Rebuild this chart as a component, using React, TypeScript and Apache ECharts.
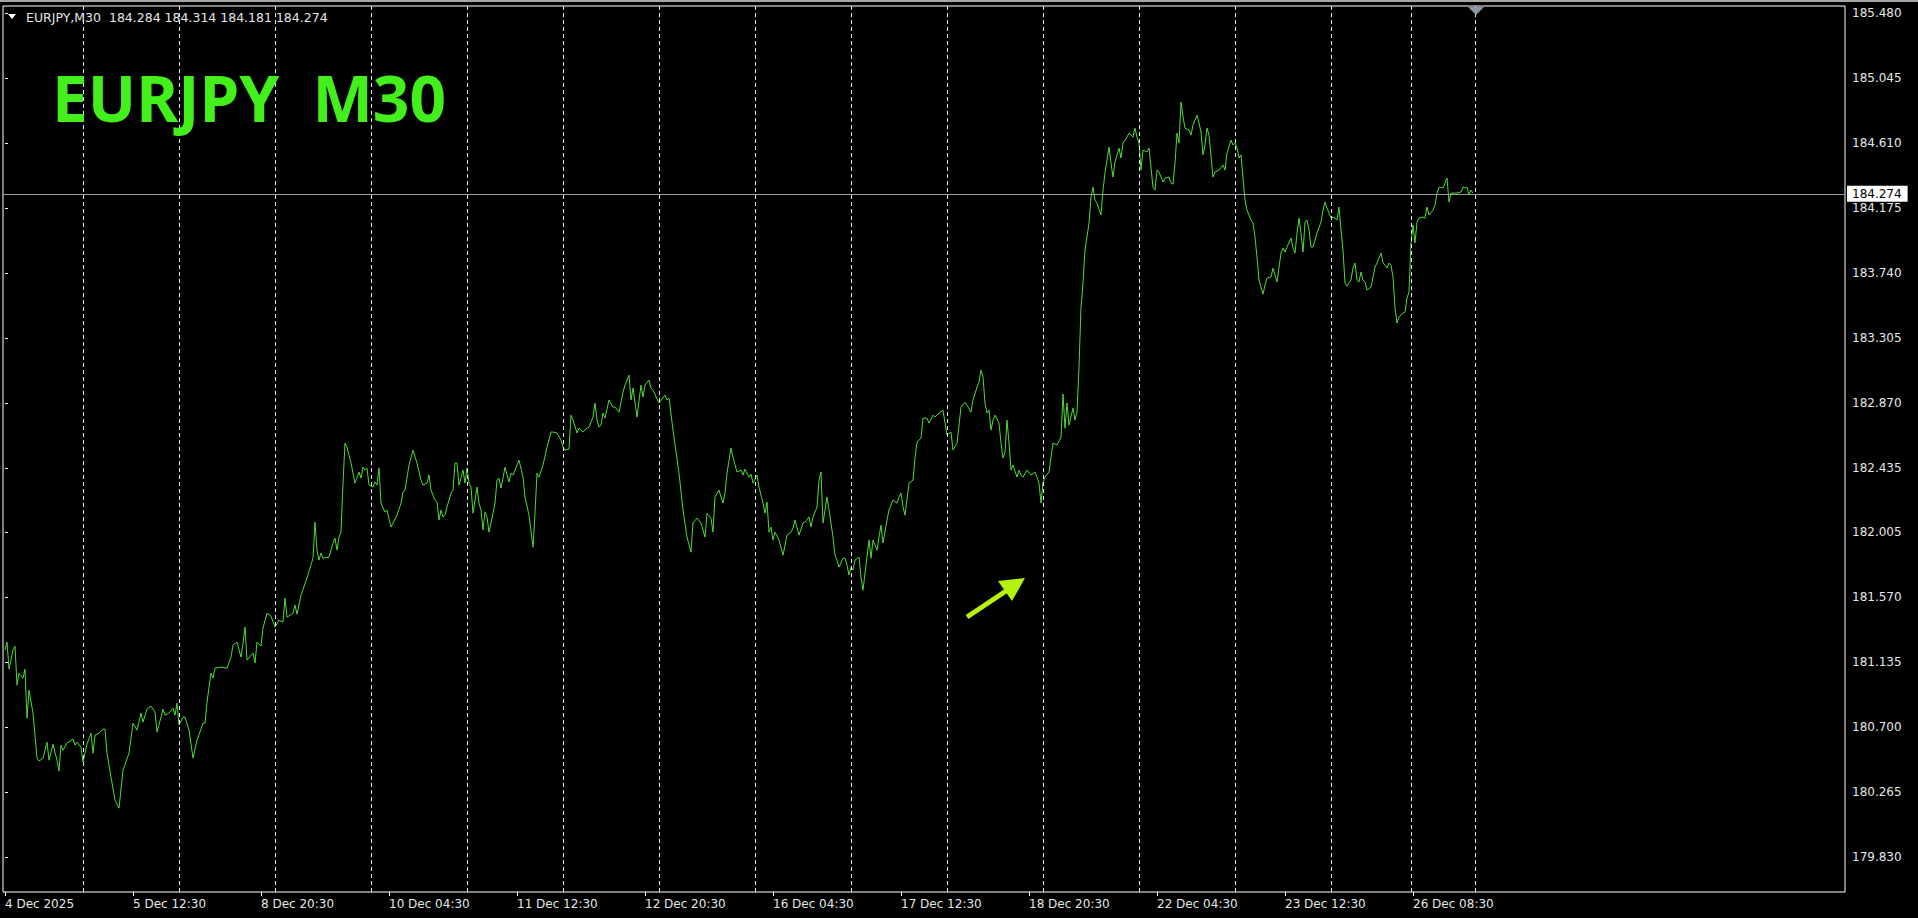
import React, { useEffect, useRef } from "react";
import * as echarts from "echarts";

// ---- data (bar index on the M30 chart, close price) ----
const symbolName = "EURJPY";
const timeframe = "M30";
const headerOHLC = [184.284, 184.314, 184.181, 184.274];

const closes: [number, number][] = [
  [0,181.217],[1,181.270],[2,181.089],[4,181.217],[5,181.243],[6,180.982],[7,181.063],[9,181.029],[10,181.089],[11,180.761],
  [12,180.949],[14,180.795],[16,180.494],[17,180.474],[19,180.494],[21,180.601],[22,180.480],[24,180.587],[26,180.480],[27,180.407],
  [28,180.581],[29,180.547],[31,180.594],[34,180.621],[35,180.581],[36,180.601],[38,180.567],[39,180.467],[41,180.587],[43,180.661],
  [44,180.527],[45,180.648],[47,180.661],[49,180.688],[50,180.688],[51,180.527],[53,180.367],[55,180.213],[57,180.159],[59,180.413],
  [62,180.527],[64,180.728],[66,180.681],[68,180.795],[69,180.735],[71,180.822],[73,180.842],[75,180.802],[76,180.668],[78,180.768],
  [79,180.822],[80,180.781],[82,180.795],[84,180.828],[85,180.781],[86,180.862],[87,180.715],[89,180.768],[90,180.768],[92,180.681],
  [94,180.494],[96,180.614],[99,180.728],[100,180.728],[101,180.869],[103,181.063],[104,181.029],[105,181.096],[108,181.103],[111,181.096],
  [113,181.170],[114,181.250],[116,181.270],[118,181.170],[119,181.263],[120,181.371],[121,181.150],[124,181.196],[125,181.130],[126,181.270],
  [128,181.243],[129,181.364],[131,181.464],[133,181.444],[135,181.371],[137,181.417],[139,181.404],[140,181.565],[141,181.437],[144,181.464],
  [145,181.518],[146,181.457],[148,181.585],[151,181.699],[154,181.832],[155,182.073],[156,181.886],[157,181.819],[158,181.866],[159,181.832],
  [162,181.839],[164,181.933],[165,181.966],[166,181.886],[167,181.973],[168,182.006],[169,182.334],[170,182.602],[171,182.575],[173,182.468],
  [175,182.334],[177,182.408],[178,182.368],[179,182.441],[180,182.421],[181,182.435],[182,182.321],[184,182.308],[185,182.341],[186,182.321],
  [187,182.435],[188,182.200],[190,182.140],[191,182.154],[193,182.040],[194,182.067],[196,182.120],[198,182.200],[199,182.274],[200,182.287],
  [202,182.455],[204,182.555],[206,182.468],[208,182.354],[209,182.321],[211,182.334],[212,182.388],[213,182.287],[215,182.220],[216,182.207],
  [217,182.087],[218,182.154],[219,182.107],[220,182.120],[221,182.174],[223,182.267],[224,182.287],[225,182.468],[226,182.468],[227,182.321],
  [228,182.368],[229,182.421],[230,182.334],[231,182.435],[232,182.334],[233,182.308],[234,182.133],[236,182.308],[237,182.200],[238,182.154],
  [239,182.020],[240,182.140],[241,182.107],[242,182.006],[244,182.133],[245,182.200],[246,182.354],[247,182.368],[248,182.301],[249,182.368],
  [250,182.441],[252,182.341],[253,182.401],[254,182.388],[256,182.455],[257,182.488],[259,182.374],[260,182.241],[262,182.120],[264,181.906],
  [265,182.133],[266,182.401],[267,182.374],[269,182.455],[271,182.575],[273,182.676],[274,182.676],[276,182.669],[278,182.622],[279,182.575],
  [280,182.555],[282,182.562],[283,182.789],[284,182.756],[286,182.669],[287,182.702],[289,182.676],[291,182.702],[292,182.709],[294,182.776],
  [295,182.870],[296,182.756],[297,182.709],[298,182.722],[299,182.803],[300,182.769],[302,182.890],[304,182.843],[305,182.843],[307,182.809],
  [309,182.943],[310,182.990],[312,183.057],[313,182.890],[314,182.970],[316,182.776],[318,182.990],[319,182.910],[320,182.990],[322,183.024],
  [323,182.970],[324,182.957],[327,182.870],[330,182.923],[331,182.890],[332,182.903],[334,182.689],[337,182.401],[339,182.154],[341,181.973],
  [343,181.872],[344,182.067],[346,182.100],[348,182.067],[350,181.973],[351,182.133],[353,182.100],[354,182.006],[355,182.241],[357,182.287],
  [359,182.200],[360,182.267],[361,182.401],[363,182.569],[364,182.508],[366,182.408],[368,182.421],[369,182.388],[370,182.428],[372,182.374],
  [373,182.395],[374,182.334],[376,182.388],[377,182.308],[379,182.200],[380,182.133],[381,182.207],[382,182.006],[383,182.040],[384,181.953],
  [385,182.006],[387,181.953],[389,181.852],[391,181.986],[393,182.006],[394,182.033],[395,182.087],[397,181.986],[399,182.067],[400,182.073],
  [402,182.107],[403,182.040],[404,182.107],[406,182.174],[407,182.354],[408,182.408],[409,182.067],[410,182.154],[411,182.241],[412,182.154],
  [414,181.973],[415,181.852],[416,181.819],[417,181.772],[419,181.832],[420,181.832],[421,181.785],[422,181.719],[423,181.772],[424,181.752],
  [425,181.819],[427,181.839],[428,181.705],[429,181.618],[430,181.732],[432,181.953],[433,181.832],[434,181.953],[436,181.886],[437,181.973],
  [438,182.053],[439,181.933],[441,182.087],[442,182.154],[444,182.221],[446,182.200],[447,182.241],[448,182.267],[449,182.174],[450,182.120],
  [452,182.334],[454,182.354],[455,182.502],[456,182.609],[458,182.635],[459,182.769],[461,182.769],[462,182.736],[464,182.789],[465,182.776],
  [467,182.803],[469,182.823],[470,182.736],[471,182.656],[473,182.676],[474,182.555],[476,182.602],[478,182.843],[480,182.876],[481,182.856],
  [483,182.809],[484,182.890],[486,182.977],[487,183.010],[488,183.091],[489,183.044],[490,182.870],[491,182.803],[492,182.823],[493,182.689],
  [494,182.756],[495,182.789],[497,182.736],[498,182.602],[499,182.502],[500,182.542],[501,182.756],[502,182.602],[503,182.421],[504,182.455],
  [506,182.374],[507,182.421],[508,182.388],[509,182.374],[511,182.421],[513,182.388],[515,182.408],[516,182.374],[517,182.334],[518,182.200],
  [519,182.341],[520,182.374],[522,182.408],[524,182.602],[526,182.589],[528,182.642],[529,182.930],[530,182.702],[531,182.870],[532,182.722],
  [534,182.836],[535,182.756],[536,182.809],[537,183.111],[538,183.512],[539,183.673],[540,183.894],[542,184.074],[543,184.248],[544,184.315],
  [545,184.228],[546,184.208],[548,184.128],[549,184.295],[550,184.409],[552,184.583],[553,184.476],[554,184.382],[555,184.483],[556,184.530],
  [557,184.576],[558,184.510],[559,184.610],[561,184.650],[562,184.677],[564,184.650],[565,184.710],[566,184.650],[567,184.610],[568,184.429],
  [569,184.563],[571,184.550],[572,184.576],[573,184.443],[574,184.315],[575,184.295],[576,184.429],[577,184.416],[579,184.349],[580,184.376],
  [582,184.382],[583,184.342],[584,184.335],[585,184.476],[586,184.677],[587,184.610],[588,184.884],[589,184.784],[590,184.710],[592,184.697],
  [593,184.663],[594,184.730],[596,184.797],[597,184.744],[598,184.684],[599,184.530],[600,184.597],[601,184.710],[602,184.663],[604,184.382],
  [605,184.416],[607,184.429],[609,184.463],[610,184.429],[611,184.543],[613,184.630],[614,184.597],[615,184.610],[616,184.576],[617,184.510],
  [618,184.530],[619,184.376],[620,184.228],[621,184.161],[623,184.095],[624,184.074],[625,183.981],[626,183.847],[627,183.693],[629,183.599],
  [630,183.659],[631,183.706],[633,183.713],[634,183.773],[635,183.726],[636,183.680],[638,183.874],[639,183.907],[640,183.880],[641,183.914],
  [643,183.974],[644,183.907],[645,183.874],[646,184.008],[647,184.108],[648,184.008],[649,183.880],[650,184.081],[651,184.095],[652,184.028],
  [653,183.914],[654,183.914],[656,184.008],[658,184.081],[659,184.161],[660,184.215],[661,184.175],[663,184.108],[664,184.114],[666,184.095],
  [667,184.182],[668,184.028],[669,183.894],[670,183.673],[671,183.653],[673,183.693],[674,183.773],[675,183.807],[676,183.693],[677,183.680],
  [678,183.747],[679,183.693],[680,183.680],[681,183.626],[683,183.646],[684,183.713],[685,183.780],[686,183.807],[688,183.874],[689,183.807],
  [690,183.793],[691,183.773],[692,183.807],[693,183.793],[694,183.713],[695,183.506],[696,183.405],[697,183.445],[699,183.472],[700,183.479],
  [701,183.573],[702,183.613],[703,183.941],[704,184.061],[705,183.941],[706,184.081],[707,184.108],[709,184.114],[710,184.108],[711,184.182],
  [712,184.128],[714,184.161],[715,184.195],[716,184.275],[717,184.315],[719,184.309],[720,184.342],[721,184.376],[722,184.215],[723,184.275],
  [724,184.275],[726,184.275],[728,184.282],[729,184.315],[730,184.309],[731,184.315],[732,184.262],[733,184.295],[734,184.274],
];

const dayLineBars = [39, 87, 135, 183, 231, 279, 327, 375, 423, 471, 519, 567, 615, 663, 703, 735];
const timeLabelBars = [0, 64, 128, 192, 256, 320, 384, 448, 512, 576, 640, 704];
const timeLabels = [
  "4 Dec 2025", "5 Dec 12:30", "8 Dec 20:30", "10 Dec 04:30", "11 Dec 12:30", "12 Dec 20:30",
  "16 Dec 04:30", "17 Dec 12:30", "18 Dec 20:30", "22 Dec 04:30", "23 Dec 12:30", "26 Dec 08:30",
];
const priceTicks = [185.48, 185.045, 184.61, 184.175, 183.74, 183.305, 182.87, 182.435, 182.005, 181.57, 181.135, 180.7, 180.265, 179.83];
const priceMin = 179.598;
const priceMax = 185.527;
const barMin = -1;
const barMax = 920;

// ---- styles ----
const FONT = "'DejaVu Sans', Verdana, sans-serif";
const LINE_COLOR = "#4ddc35";
const TITLE_COLOR = "#44f01c";
const ARROW_COLOR = "#b5f20d";
const TEXT_COLOR = "#e6e6e6";

export default function App() {
  const ref = useRef<HTMLDivElement>(null);
  useEffect(() => {
    document.body.style.margin = "0";
    const chart = echarts.init(ref.current!, null, { renderer: "svg" });
    const lastClose = closes[closes.length - 1][1];
    const header = `${symbolName},${timeframe}  ${headerOHLC.map((v) => v.toFixed(3)).join(" ")}`;
    chart.setOption({
      animation: false,
      backgroundColor: "#000000",
      grid: {
        left: 3, right: 73, top: 6, bottom: 26,
        show: true, borderColor: "#ffffff", borderWidth: 1, backgroundColor: "transparent",
      },
      xAxis: {
        type: "value",
        min: barMin,
        max: barMax,
        axisLine: { show: false },
        splitLine: { show: false },
        axisTick: { show: true, customValues: timeLabelBars, length: 4, lineStyle: { color: "#ffffff" } },
        axisLabel: {
          customValues: timeLabelBars,
          formatter: (v: number) => {
            const k = timeLabelBars.indexOf(Math.round(v));
            return k >= 0 ? timeLabels[k] : "";
          },
          align: "left",
          margin: 6,
          color: TEXT_COLOR,
          fontSize: 12,
          fontFamily: FONT,
        },
      },
      yAxis: {
        type: "value",
        position: "right",
        min: priceMin,
        max: priceMax,
        scale: true,
        axisLine: { show: false },
        splitLine: { show: false },
        axisTick: { show: true, customValues: priceTicks, length: 3, lineStyle: { color: "#ffffff" } },
        axisLabel: {
          customValues: priceTicks,
          formatter: (v: number) => v.toFixed(3),
          margin: 7,
          color: TEXT_COLOR,
          fontSize: 12,
          fontFamily: FONT,
        },
      },
      series: [
        {
          type: "line",
          name: "daySeparators",
          data: [],
          z: 1,
          silent: true,
          markLine: {
            silent: true,
            symbol: ["none", "none"],
            label: { show: false },
            lineStyle: { color: "#e8e8e8", width: 1, type: [4, 3] },
            data: dayLineBars.map((b) => ({ xAxis: b })),
          },
        },
        {
          type: "line",
          name: `${symbolName} ${timeframe}`,
          data: closes,
          showSymbol: false,
          symbol: "none",
          silent: true,
          z: 3,
          lineStyle: { color: LINE_COLOR, width: 1 },
          markLine: {
            silent: true,
            symbol: ["none", "none"],
            lineStyle: { color: "#9c9c9c", width: 1, type: "solid" },
            label: {
              show: true,
              position: "end",
              distance: 2,
              formatter: () => lastClose.toFixed(3),
              backgroundColor: "#ffffff",
              color: "#000000",
              fontSize: 12,
              fontFamily: FONT,
              padding: [2, 6, 2, 5],
            },
            data: [{ yAxis: lastClose }],
          },
        },
      ],
      graphic: [
        { type: "rect", silent: true, z: 10, shape: { x: 0, y: 0, width: 1918, height: 2 }, style: { fill: "#a6a6a6" } },
        { type: "polygon", silent: true, z: 10, shape: { points: [[8, 14], [16, 14], [12, 19]] }, style: { fill: "#ffffff" } },
        {
          type: "text", silent: true, z: 10, x: 26, y: 17,
          style: { text: header, fill: TEXT_COLOR, fontSize: 12.5, fontFamily: FONT, verticalAlign: "middle", align: "left" },
        },
        {
          type: "text", silent: true, z: 10, x: 52, y: 97,
          style: {
            text: `${symbolName}  ${timeframe}`, fill: TITLE_COLOR, fontSize: 64, fontWeight: "bold",
            fontFamily: "'Noto Sans', sans-serif", verticalAlign: "middle", align: "left",
          },
        },
        { type: "line", silent: true, z: 10, shape: { x1: 967, y1: 617, x2: 1006, y2: 591 }, style: { stroke: ARROW_COLOR, lineWidth: 5 } },
        { type: "polygon", silent: true, z: 10, shape: { points: [[1025, 578], [998, 581], [1012, 601]] }, style: { fill: ARROW_COLOR } },
        { type: "polygon", silent: true, z: 10, shape: { points: [[1468, 7], [1484, 7], [1476, 15]] }, style: { fill: "#8a96a6" } },
      ],
    });
    return () => chart.dispose();
  }, []);
  return (
    <div
      ref={ref}
      style={{ position: "fixed", left: 0, top: 0, width: 1918, height: 918, background: "#000000" }}
    />
  );
}
